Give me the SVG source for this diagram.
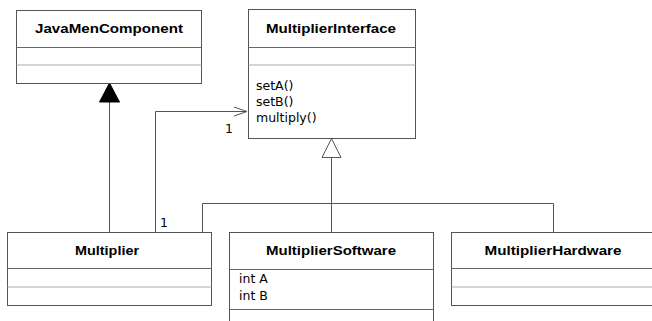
<svg xmlns="http://www.w3.org/2000/svg" width="652" height="321" viewBox="0 0 652 321">
<style>
.box{fill:#fff;stroke:#555;stroke-width:1}
.div1{stroke:#666;stroke-width:1}
.div2{stroke:#aaa;stroke-width:1.2}
.title{font-family:"Liberation Sans",Arial,sans-serif;font-weight:bold;font-size:13.5px;fill:#000;text-anchor:middle}
.txt{font-family:"DejaVu Sans","Liberation Sans",sans-serif;font-size:12.5px;fill:#000}
.ln{fill:none;stroke:#555;stroke-width:1}
</style>
<rect width="652" height="321" fill="#fff"/>
<g id="connectors">
  <path class="ln" d="M109.5,232 V101"/>
  <polygon points="109.5,83 99.5,102 119.5,102" fill="#000" stroke="#000"/>
  <path class="ln" d="M155.5,232 V111.5 H247"/>
  <path class="ln" d="M234,107 L247,111.5 L234,116"/>
  <text class="txt" x="225" y="133">1</text>
  <text class="txt" x="160" y="227">1</text>
  <path class="ln" d="M202.5,232 V203.5 H553.5 V232"/>
  <path class="ln" d="M331.5,232 V157.5"/>
  <polygon points="331.5,138.5 322,157.5 341,157.5" fill="#fff" stroke="#555"/>
</g>
<g id="JavaMenComponent">
  <rect class="box" x="16.5" y="10.5" width="185" height="73"/>
  <line class="div1" x1="16.5" y1="47.5" x2="201.5" y2="47.5"/>
  <line class="div2" x1="16.5" y1="65" x2="201.5" y2="65"/>
  <text class="title" x="109" y="33" textLength="148" lengthAdjust="spacingAndGlyphs">JavaMenComponent</text>
</g>
<g id="MultiplierInterface">
  <rect class="box" x="248.5" y="9.5" width="167" height="129"/>
  <line class="div1" x1="248.5" y1="47.5" x2="415.5" y2="47.5"/>
  <line class="div2" x1="248.5" y1="65" x2="415.5" y2="65"/>
  <text class="title" x="331" y="33" textLength="130" lengthAdjust="spacingAndGlyphs">MultiplierInterface</text>
  <text class="txt" x="256" y="90">setA()</text>
  <text class="txt" x="256" y="106">setB()</text>
  <text class="txt" x="256" y="122">multiply()</text>
</g>
<g id="Multiplier">
  <rect class="box" x="7.5" y="232.5" width="204" height="73"/>
  <line class="div1" x1="7.5" y1="268.5" x2="211.5" y2="268.5"/>
  <line class="div2" x1="7.5" y1="287" x2="211.5" y2="287"/>
  <text class="title" x="107" y="255" textLength="64" lengthAdjust="spacingAndGlyphs">Multiplier</text>
</g>
<g id="MultiplierSoftware">
  <rect class="box" x="229.5" y="232.5" width="204" height="100"/>
  <line class="div1" x1="229.5" y1="269.5" x2="433.5" y2="269.5"/>
  <line class="div1" x1="229.5" y1="309.5" x2="433.5" y2="309.5"/>
  <text class="title" x="331" y="255" textLength="130" lengthAdjust="spacingAndGlyphs">MultiplierSoftware</text>
  <text class="txt" x="239" y="283">int A</text>
  <text class="txt" x="239" y="300">int B</text>
</g>
<g id="MultiplierHardware">
  <rect class="box" x="451.5" y="232.5" width="220" height="73"/>
  <line class="div1" x1="451.5" y1="268.5" x2="660" y2="268.5"/>
  <line class="div2" x1="451.5" y1="287" x2="660" y2="287"/>
  <text class="title" x="553" y="255" textLength="137" lengthAdjust="spacingAndGlyphs">MultiplierHardware</text>
</g>
</svg>
